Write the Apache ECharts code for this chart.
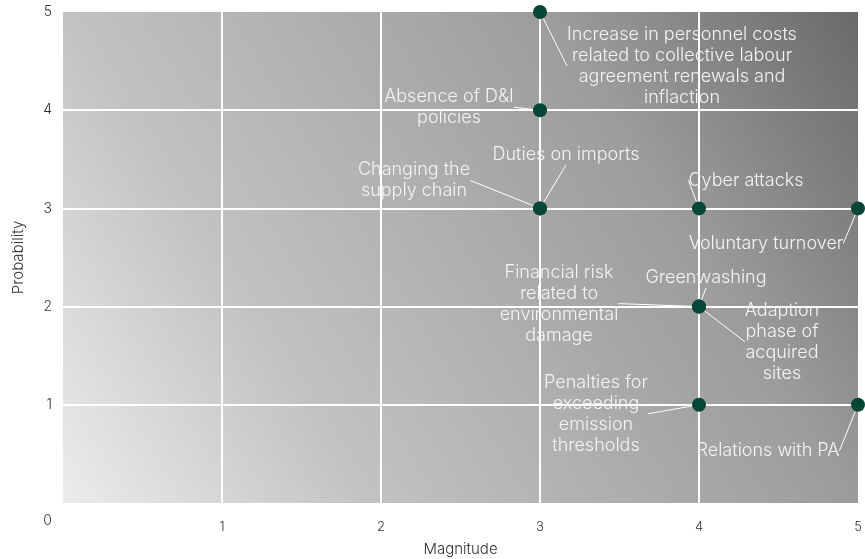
<!DOCTYPE html>
<html>
<head>
<meta charset="utf-8">
<script src="https://cdn.jsdelivr.net/npm/echarts@6/dist/echarts.min.js"></script>
<style>
  html, body { margin: 0; padding: 0; background: #fff; }
  #chart { width: 865px; height: 559px; }
</style>
</head>
<body>
<div id="chart"></div>
<script>
// risks: name, magnitude (x), probability (y)
const riskNames = [
  'Increase in personnel costs\nrelated to collective labour\nagreement renewals and\ninflaction',
  'Absence of D&I\npolicies',
  'Changing the\nsupply chain',
  'Duties on imports',
  'Cyber attacks',
  'Voluntary turnover',
  'Financial risk\nrelated to\nenvironmental\ndamage',
  'Greenwashing',
  'Adaption\nphase of\nacquired\nsites',
  'Penalties for\nexceeding\nemission\nthresholds',
  'Relations with PA'
]
const magnitudes = [3, 3, 3, 3, 4, 5, 4, 4, 4, 4, 5]
const probabilities = [5, 4, 3, 3, 3, 3, 2, 2, 2, 1, 1]
const axisTicks = [0, 1, 2, 3, 4, 5]

// where each label sits relative to its point (px)
const labelShift = [
  [142, 54], [-91, -3], [-126, -28], [26, -54], [47, -28], [-92, 35],
  [-140, -3], [7, -29], [83, 35], [-103, 9], [-90, 46]
]

const data = riskNames.map((n, i) => ({ name: n, value: [magnitudes[i], probabilities[i]] }))

const chart = echarts.init(document.getElementById('chart'))

const font = 'Inter'

chart.setOption({
  animation: false,
  textStyle: { fontFamily: font },
  grid: {
    left: 63, right: 7, top: 12, bottom: 56,
    outerBoundsMode: 'none',
    containLabel: false,
    show: true,
    borderWidth: 0,
    backgroundColor: new echarts.graphic.LinearGradient(0, 1, 1, 0, [
      { offset: 0, color: '#ececeb' },
      { offset: 0.28, color: '#c2c2c1' },
      { offset: 0.72, color: '#9c9c9c' },
      { offset: 1, color: '#6a6a6a' }
    ])
  },
  xAxis: {
    type: 'value',
    min: axisTicks[0],
    max: axisTicks[axisTicks.length - 1],
    interval: 1,
    name: 'Magnitude',
    nameLocation: 'middle',
    nameGap: 39,
    nameTextStyle: { color: '#333', fontSize: 15, fontWeight: 300, fontFamily: font },
    axisLine: { show: false },
    axisTick: { show: false },
    axisLabel: { showMinLabel: false, margin: 18, color: '#333', fontSize: 13, fontWeight: 300, fontFamily: font },
    splitLine: { show: true, showMinLine: false, showMaxLine: false, lineStyle: { color: '#fff', width: 2 } }
  },
  yAxis: {
    type: 'value',
    min: axisTicks[0],
    max: axisTicks[axisTicks.length - 1],
    interval: 1,
    name: 'Probability',
    nameLocation: 'middle',
    nameGap: 37,
    nameTextStyle: { color: '#333', fontSize: 15, fontWeight: 300, fontFamily: font },
    axisLine: { show: false },
    axisTick: { show: false },
    axisLabel: {
      margin: 11, color: '#333', fontSize: 14, fontWeight: 300, fontFamily: font,
      formatter: v => (v === 0 ? '{z|0}' : String(v)),
      rich: { z: { padding: [36, 0, 0, 0], color: '#333', fontSize: 14, fontWeight: 300, fontFamily: font } }
    },
    splitLine: { show: true, showMinLine: false, showMaxLine: false, lineStyle: { color: '#fff', width: 2 } }
  },
  series: [{
    type: 'scatter',
    data: data,
    symbolSize: 14,
    itemStyle: { color: '#054737', opacity: 1 },
    label: {
      show: true,
      formatter: '{b}',
      color: '#f4f4f4',
      fontSize: 18,
      fontWeight: 300,
      fontFamily: font,
      lineHeight: 21,
      align: 'center'
    },
    labelLine: { show: true, lineStyle: { color: '#fff', width: 1 } },
    labelLayout: p => {
      const s = labelShift[p.dataIndex]
      return {
        x: p.rect.x + p.rect.width / 2 + s[0],
        y: p.rect.y + p.rect.height / 2 + s[1],
        align: 'center',
        verticalAlign: 'middle'
      }
    }
  }]
})
</script>
</body>
</html>
